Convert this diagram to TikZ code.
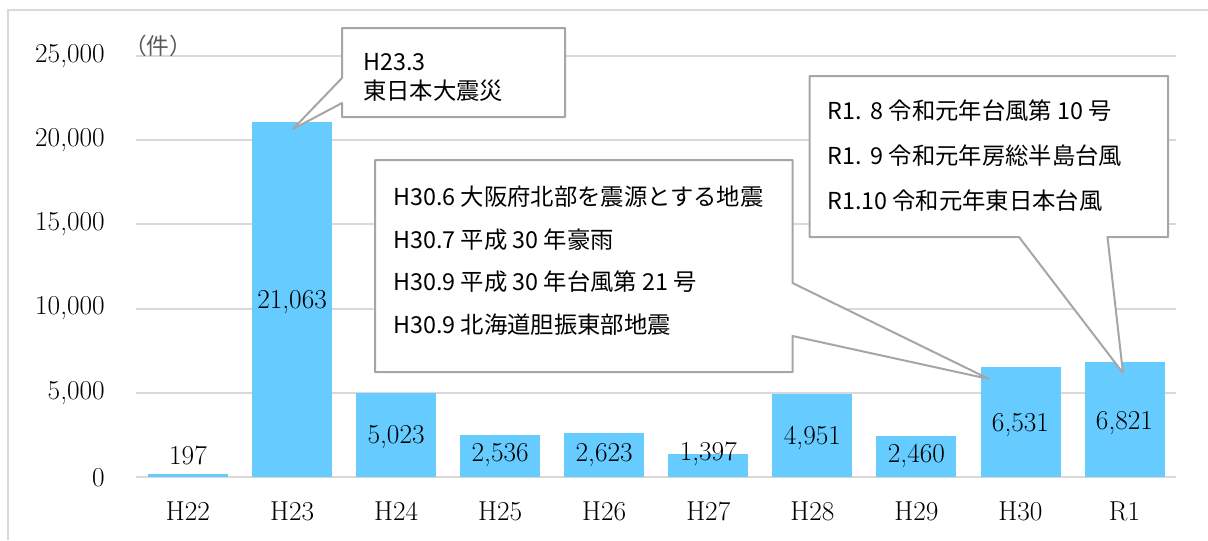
\documentclass[tikz,border=0pt]{standalone}
\usepackage{xcolor}
\usepackage{amsmath}
\usepackage{amssymb}
\usepackage{fontspec}
\newfontfamily\jpfont{Noto Sans CJK JP}
\usepackage{tikz}

\begin{document}
\begin{tikzpicture}[x=0.75pt,y=0.75pt,yscale=-1,xscale=1,
  gridline/.style={color={rgb, 255:red, 217; green, 217; blue, 217 }, line width=1.5},
  barfill/.style={fill={rgb, 255:red, 102; green, 204; blue, 255 }},
  calloutbox/.style={draw={rgb, 255:red, 166; green, 166; blue, 166 }, draw opacity=1, line width=1.5, line join=round, fill=white},
  numtext/.style={inner sep=0.75pt, font=\fontsize{20.5}{24}\selectfont},
  jptext/.style={anchor=west, inner sep=0.75pt, font=\jpfont\fontsize{17.5}{21}\selectfont}]
\useasboundingbox (0,0) rectangle (1208,540);

%Straight Lines (chart frame)
\draw [gridline]  (8,540) -- (8,10) -- (1208,10) ;

%Straight Lines (gridlines)
\draw [gridline]  (136,477.3) -- (1176,477.3) ;
\draw [gridline]  (136,393) -- (1176,393) ;
\draw [gridline]  (136,308.6) -- (1176,308.6) ;
\draw [gridline]  (136,224.3) -- (1176,224.3) ;
\draw [gridline]  (136,140) -- (1176,140) ;
\draw [gridline]  (136,55.7) -- (1176,55.7) ;

%Shape: Rectangle (bars)
\fill [barfill]  (148,474) rectangle (228,477.3) ;
\fill [barfill]  (252.1,122.1) rectangle (332.1,477.3) ;
\fill [barfill]  (356.1,392.6) rectangle (436.1,477.3) ;
\fill [barfill]  (460.2,434.5) rectangle (540.2,477.3) ;
\fill [barfill]  (564.2,433.1) rectangle (644.2,477.3) ;
\fill [barfill]  (668.3,453.7) rectangle (748.3,477.3) ;
\fill [barfill]  (772.4,393.8) rectangle (852.4,477.3) ;
\fill [barfill]  (876.4,435.8) rectangle (956.4,477.3) ;
\fill [barfill]  (980.5,367.2) rectangle (1060.5,477.3) ;
\fill [barfill]  (1084.5,362.3) rectangle (1164.5,477.3) ;

% Text Node (y axis)
\node (ytick0) [numtext, anchor=east] at (106,477.3) {0};
\node (ytick1) [numtext, anchor=east] at (106,393) {5,000};
\node (ytick2) [numtext, anchor=east] at (106,308.6) {10,000};
\node (ytick3) [numtext, anchor=east] at (106,224.3) {15,000};
\node (ytick4) [numtext, anchor=east] at (106,140) {20,000};
\node (ytick5) [numtext, anchor=east] at (106,55.7) {25,000};
\node (yunit) [inner sep=0.75pt, font=\jpfont\fontsize{17}{20}\selectfont, color={rgb, 255:red, 89; green, 89; blue, 89 }] at (158,46) {（件）};

% Text Node (categories)
\node (catH22) [numtext] at (188,511) {H22};
\node (catH23) [numtext] at (292.1,511) {H23};
\node (catH24) [numtext] at (396.1,511) {H24};
\node (catH25) [numtext] at (500.2,511) {H25};
\node (catH26) [numtext] at (604.2,511) {H26};
\node (catH27) [numtext] at (708.3,511) {H27};
\node (catH28) [numtext] at (812.4,511) {H28};
\node (catH29) [numtext] at (916.4,511) {H29};
\node (catH30) [numtext] at (1020.5,511) {H30};
\node (catR1) [numtext] at (1124.5,511) {R1};

% Text Node (values)
\node (valH22) [numtext] at (188,455) {197};
\node (valH23) [numtext] at (292.1,302) {21,063};
\node (valH24) [numtext] at (396.1,437) {5,023};
\node (valH25) [numtext] at (500.2,455) {2,536};
\node (valH26) [numtext] at (604.2,455) {2,623};
\node (valH27) [numtext] at (708.3,454) {1,397};
\node (valH28) [numtext] at (812.4,438) {4,951};
\node (valH29) [numtext] at (916.4,456) {2,460};
\node (valH30) [numtext] at (1020.5,425) {6,531};
\node (valR1) [numtext] at (1124.5,423) {6,821};

%Callout tips
\coordinate (tipH23) at (293,129);
\coordinate (tipH30) at (989,379);
\coordinate (tipR1) at (1123,373);

%Shape: Callout (H23)
\draw [calloutbox]  (342,28) -- (565,28) -- (565,117) -- (342,117) -- (342,103) -- (tipH23) -- (342,78) -- cycle ;
%Shape: Callout (H30)
\draw [calloutbox]  (375,160) -- (792.5,160) -- (792.5,283) -- (tipH30) -- (792.5,336) -- (792.5,372) -- (375,372) -- cycle ;
%Shape: Callout (R1)
\draw [calloutbox]  (809.5,76) -- (1168,76) -- (1168,237) -- (1107.5,237) -- (tipR1) -- (1019,237) -- (809.5,237) -- cycle ;

% Text Node (callout texts)
\node (noteH23a) [jptext] at (362,62) {H23.3};
\node (noteH23b) [jptext] at (362,91) {東日本大震災};
\node (noteH30a) [jptext] at (392,197) {H30.6 大阪府北部を震源とする地震};
\node (noteH30b) [jptext] at (392,240) {H30.7 平成 30 年豪雨};
\node (noteH30c) [jptext] at (392,282) {H30.9 平成 30 年台風第 21 号};
\node (noteH30d) [jptext] at (392,325) {H30.9 北海道胆振東部地震};
\node (noteR1a) [jptext] at (826,111) {R1.\ \,8 令和元年台風第 10 号};
\node (noteR1b) [jptext] at (826,156) {R1.\ \,9 令和元年房総半島台風};
\node (noteR1c) [jptext] at (826,201) {R1.10 令和元年東日本台風};

\end{tikzpicture}
\end{document}
